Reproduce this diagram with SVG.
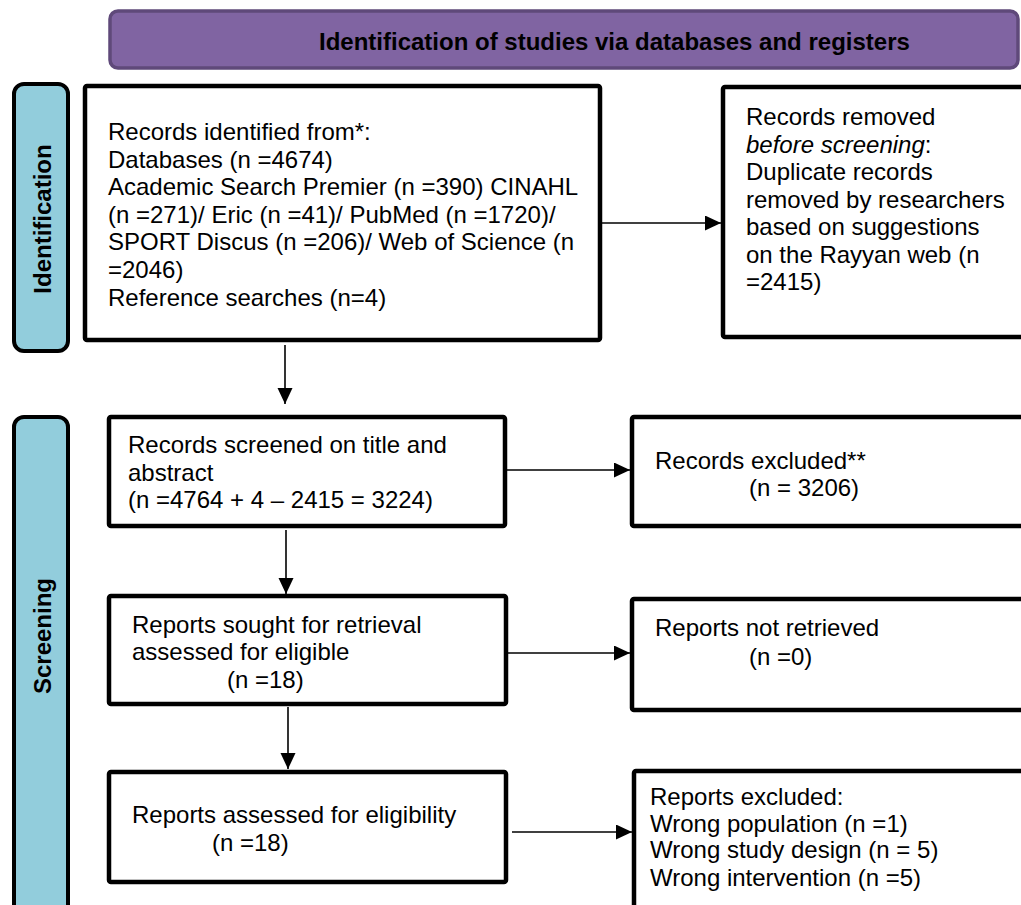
<svg xmlns="http://www.w3.org/2000/svg" width="1021" height="905" viewBox="0 0 1021 905">
<style>
.box{fill:#fff;stroke:#000;stroke-width:4.5}
.side{fill:#92CDDC;stroke:#000;stroke-width:4}
.t{font-family:"Liberation Sans",Arial,sans-serif;font-size:24px;fill:#000}
.b{font-family:"Liberation Sans",Arial,sans-serif;font-size:24px;font-weight:bold;fill:#000}
.c{stroke:#000;stroke-width:1.6;fill:none}
</style>
<defs>
<marker id="ah" markerUnits="userSpaceOnUse" markerWidth="17" markerHeight="16" refX="16" refY="7.5" orient="auto">
<path d="M0,0 L16,7.5 L0,15 z" fill="#000"/>
</marker>
</defs>
<rect width="1021" height="905" fill="#fff"/>
<g id="header">
<rect x="110" y="11" width="908" height="57" rx="8" fill="#8064A2" stroke="#5F497A" stroke-width="3.5"/>
<text class="b" x="319" y="50">Identification of studies via databases and registers</text>
</g>
<g id="side-identification">
<rect class="side" x="14" y="84" width="54" height="267" rx="10"/>
<text class="b" transform="translate(51,219) rotate(-90)" text-anchor="middle">Identification</text>
</g>
<g id="side-screening">
<rect class="side" x="14" y="417" width="54" height="520" rx="10"/>
<text class="b" transform="translate(51,636) rotate(-90)" text-anchor="middle">Screening</text>
</g>
<g id="records-identified">
<rect class="box" x="85" y="86" width="515" height="254" rx="2"/>
<text class="t" x="108" y="140">Records identified from*:</text>
<text class="t" x="108" y="168">Databases (n =4674)</text>
<text class="t" x="108" y="195">Academic Search Premier (n =390) CINAHL</text>
<text class="t" x="108" y="223">(n =271)/ Eric (n =41)/ PubMed (n =1720)/</text>
<text class="t" x="108" y="250">SPORT Discus (n =206)/ Web of Science (n</text>
<text class="t" x="108" y="278">=2046)</text>
<text class="t" x="108" y="306">Reference searches (n=4)</text>
</g>
<g id="records-removed">
<rect class="box" x="723" y="87" width="320" height="250" rx="2"/>
<text class="t" x="746" y="125">Records removed</text>
<text class="t" x="746" y="153"><tspan font-style="italic">before screening</tspan>:</text>
<text class="t" x="746" y="180">Duplicate records</text>
<text class="t" x="746" y="208">removed by researchers</text>
<text class="t" x="746" y="235">based on suggestions</text>
<text class="t" x="746" y="263">on the Rayyan web (n</text>
<text class="t" x="746" y="290">=2415)</text>
</g>
<g id="records-screened">
<rect class="box" x="109" y="417" width="396" height="109" rx="2"/>
<text class="t" x="128" y="453">Records screened on title and</text>
<text class="t" x="128" y="481">abstract</text>
<text class="t" x="128" y="508">(n =4764 + 4 – 2415 = 3224)</text>
</g>
<g id="records-excluded">
<rect class="box" x="632" y="417" width="410" height="109" rx="2"/>
<text class="t" x="655" y="469">Records excluded**</text>
<text class="t" x="749" y="496">(n = 3206)</text>
</g>
<g id="reports-sought">
<rect class="box" x="109" y="596" width="397" height="108" rx="2"/>
<text class="t" x="132" y="633">Reports sought for retrieval</text>
<text class="t" x="132" y="660">assessed for eligible</text>
<text class="t" x="227" y="688">(n =18)</text>
</g>
<g id="reports-not-retrieved">
<rect class="box" x="632" y="599" width="410" height="111" rx="2"/>
<text class="t" x="655" y="636">Reports not retrieved</text>
<text class="t" x="749" y="665">(n =0)</text>
</g>
<g id="reports-assessed">
<rect class="box" x="109" y="772" width="397" height="110" rx="2"/>
<text class="t" x="132" y="823">Reports assessed for eligibility</text>
<text class="t" x="212" y="851">(n =18)</text>
</g>
<g id="reports-excluded">
<rect class="box" x="634" y="771" width="410" height="160" rx="2"/>
<text class="t" x="650" y="805">Reports excluded:</text>
<text class="t" x="650" y="832">Wrong population (n =1)</text>
<text class="t" x="650" y="858">Wrong study design (n = 5)</text>
<text class="t" x="650" y="886">Wrong intervention (n =5)</text>
</g>
<g id="connectors">
<line class="c" x1="602" y1="223" x2="721" y2="223" marker-end="url(#ah)"/>
<line class="c" x1="285" y1="345" x2="285" y2="404" marker-end="url(#ah)"/>
<line class="c" x1="507" y1="470" x2="630" y2="470" marker-end="url(#ah)"/>
<line class="c" x1="286" y1="530" x2="286" y2="594" marker-end="url(#ah)"/>
<line class="c" x1="508" y1="653" x2="630" y2="653" marker-end="url(#ah)"/>
<line class="c" x1="288" y1="707" x2="288" y2="769" marker-end="url(#ah)"/>
<line class="c" x1="512" y1="832" x2="632" y2="832" stroke-width="2.2" marker-end="url(#ah)"/>
</g>
</svg>
